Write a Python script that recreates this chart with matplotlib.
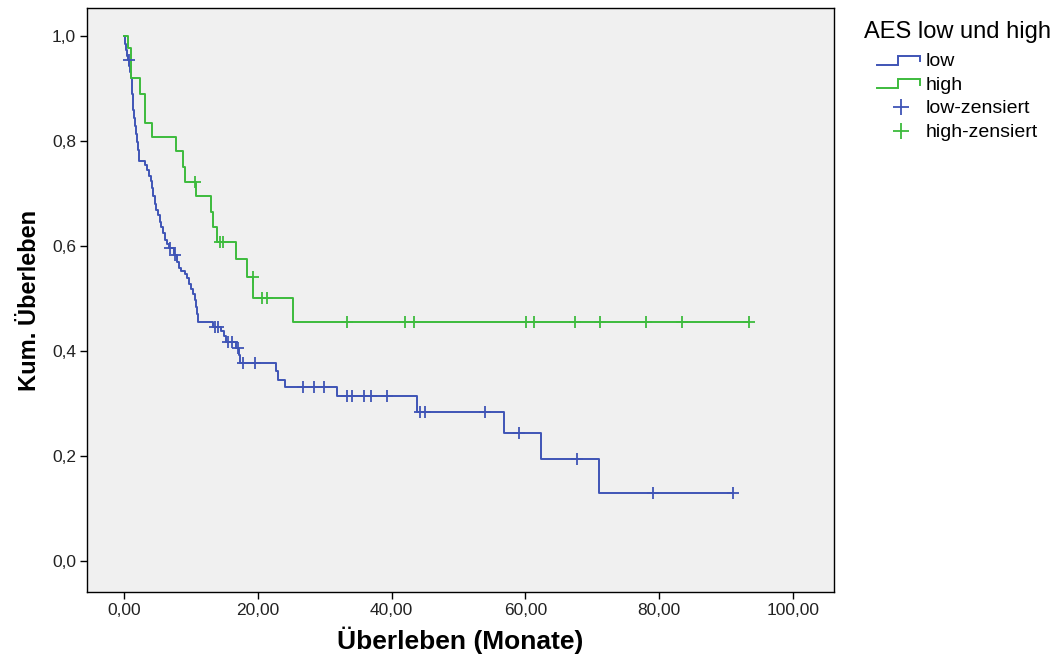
import numpy as np
import matplotlib
matplotlib.use("Agg")
import matplotlib.pyplot as plt
from matplotlib.legend_handler import HandlerBase
from matplotlib.lines import Line2D

# Kaplan-Meier estimates, AES "low" group: event times (months) and survival after each event
low_times = [0.15, 0.30, 0.45, 0.60, 0.82, 0.94, 1.05, 1.15, 1.24, 1.32, 1.39, 1.52, 1.64,
             1.79, 1.94, 2.09, 2.29, 3.14, 3.44, 3.74, 3.99, 4.19, 4.41, 4.63, 4.86, 5.08,
             5.38, 5.61, 5.83, 6.13, 6.43, 6.73, 7.47, 7.88, 8.22, 8.60, 9.12, 9.42, 9.72,
             10.01, 10.31, 10.61, 10.79, 10.94, 11.11, 13.35, 14.50, 14.95, 15.25, 16.74,
             17.26, 17.41, 22.72, 23.07, 24.07, 31.79, 43.84, 56.85, 62.29, 71.05]
low_surv = [0.985, 0.973, 0.962, 0.954, 0.943, 0.931, 0.920, 0.905, 0.890, 0.874, 0.859,
            0.844, 0.829, 0.813, 0.798, 0.783, 0.761, 0.754, 0.745, 0.733, 0.724, 0.710,
            0.695, 0.680, 0.669, 0.659, 0.646, 0.636, 0.625, 0.611, 0.604, 0.596, 0.583,
            0.570, 0.558, 0.552, 0.547, 0.539, 0.528, 0.518, 0.509, 0.497, 0.484, 0.470,
            0.456, 0.445, 0.438, 0.429, 0.417, 0.405, 0.392, 0.377, 0.361, 0.345, 0.332,
            0.314, 0.284, 0.244, 0.194, 0.130]
low_censored = [0.75, 6.95, 7.62, 13.60, 14.10, 15.59, 16.10, 17.09, 17.83, 19.58, 26.80,
                28.40, 29.97, 33.41, 34.04, 35.95, 36.92, 39.36, 44.25, 44.99, 53.96, 59.04,
                67.76, 79.12, 91.08]

# AES "high" group
high_times = [0.64, 1.00, 2.39, 3.14, 4.14, 7.77, 8.82, 9.12, 10.76, 12.96, 13.30, 13.86,
              16.74, 18.39, 19.28, 25.22]
high_surv = [0.977, 0.920, 0.890, 0.834, 0.808, 0.780, 0.750, 0.722, 0.695, 0.665, 0.636,
             0.608, 0.575, 0.541, 0.501, 0.456]
high_censored = [10.61, 14.35, 14.80, 19.24, 20.58, 21.33, 33.4, 42.0, 43.4, 60.1, 61.3,
                 67.4, 71.1, 78.0, 83.4, 93.4]

x_ticks = [0, 20, 40, 60, 80, 100]
y_ticks = [0.0, 0.2, 0.4, 0.6, 0.8, 1.0]
x_ticklabels = ["0,00", "20,00", "40,00", "60,00", "80,00", "100,00"]
y_ticklabels = ["0,0", "0,2", "0,4", "0,6", "0,8", "1,0"]

group_labels = ["low", "high", "low-zensiert", "high-zensiert"]
legend_title = "AES low und high"
x_label = "Überleben (Monate)"
y_label = "Kum. Überleben"

BLUE = "#3f54b6"
GREEN = "#3dbb3d"
FONT = "Liberation Sans"


def km_curve(times, surv, last):
    t = np.concatenate([[0.0], times, [last]])
    s = np.concatenate([[1.0], surv, [surv[-1]]])
    return t, s


def surv_at(times, surv, when):
    idx = np.searchsorted(times, when, side="right") - 1
    surv = np.asarray(surv)
    return np.where(idx >= 0, surv[np.clip(idx, 0, None)], 1.0)


class StepHandler(HandlerBase):
    def create_artists(self, legend, orig_handle, xdescent, ydescent, width, height,
                       fontsize, trans):
        x0 = -xdescent + width * 0.23
        x1 = -xdescent + width * 0.61
        x2 = -xdescent + width
        ylo = -ydescent + height * 0.18
        yhi = -ydescent + height * 0.72
        yend = -ydescent + height * 0.40
        line = Line2D([x0, x1, x1, x2, x2], [ylo, ylo, yhi, yhi, yend],
                      color=orig_handle.get_color(), lw=orig_handle.get_linewidth(),
                      solid_joinstyle="miter", transform=trans)
        return [line]


class CensorHandler(HandlerBase):
    def create_artists(self, legend, orig_handle, xdescent, ydescent, width, height,
                       fontsize, trans):
        xc = -xdescent + width * 0.65
        yc = -ydescent + height * 0.45
        mark = Line2D([xc], [yc], linestyle="none", marker="+", markersize=12,
                      markeredgewidth=1.3, color=orig_handle.get_color(), transform=trans)
        return [mark]


fig = plt.figure(figsize=(10.56, 6.59), dpi=100, facecolor="white")
ax = fig.add_axes([87 / 1056, 67 / 659, 747 / 1056, 584 / 659])
ax.set_facecolor("#f0f0f0")

lt, ls = km_curve(low_times, low_surv, max(low_censored))
ht, hs = km_curve(high_times, high_surv, max(high_censored))
(low_line,) = ax.step(lt, ls, where="post", color=BLUE, lw=1.4)
(high_line,) = ax.step(ht, hs, where="post", color=GREEN, lw=1.4)

low_c = ax.plot(low_censored, surv_at(low_times, low_surv, low_censored), linestyle="none",
                marker="+", markersize=9, markeredgewidth=1.3, color=BLUE)[0]
high_c = ax.plot(high_censored, surv_at(high_times, high_surv, high_censored), linestyle="none",
                 marker="+", markersize=9, markeredgewidth=1.3, color=GREEN)[0]

ax.set_xlim(-5.5, 106.1)
ax.set_ylim(-0.059, 1.053)
ax.set_xticks(x_ticks)
ax.set_xticklabels(x_ticklabels)
ax.set_yticks(y_ticks)
ax.set_yticklabels(y_ticklabels)
ax.tick_params(direction="out", length=5, width=1, color="black", labelcolor="#222222",
               labelsize=12.5, pad=3)
for lab in ax.get_xticklabels() + ax.get_yticklabels():
    lab.set_fontfamily(FONT)
for sp in ax.spines.values():
    sp.set_color("black")
    sp.set_linewidth(1.0)

ax.set_xlabel(x_label, fontfamily=FONT, fontweight="bold", fontsize=19, labelpad=6)
ax.set_ylabel(y_label, fontfamily=FONT, fontweight="bold", fontsize=17, labelpad=8)

leg = fig.legend([low_line, high_line, low_c, high_c], group_labels,
                 handler_map={low_line: StepHandler(), high_line: StepHandler(),
                              low_c: CensorHandler(), high_c: CensorHandler()},
                 loc="upper left", bbox_to_anchor=(864 / 1056, 1 - 21 / 659),
                 frameon=False, title=legend_title, alignment="left",
                 prop={"family": FONT, "size": 14},
                 title_fontproperties={"family": FONT, "size": 17},
                 handlelength=2.9, handleheight=0.9, handletextpad=0.28,
                 labelspacing=0.25, borderpad=0, borderaxespad=0)
leg._legend_box.sep = 6

fig.savefig("out.png", dpi=100, facecolor="white")
